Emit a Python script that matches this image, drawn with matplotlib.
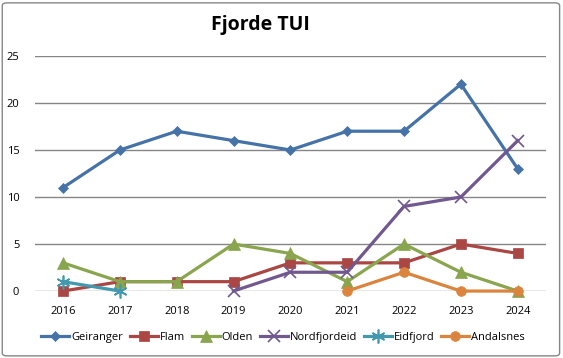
import matplotlib

matplotlib.use("Agg")

import matplotlib.pyplot as plt  # noqa: E402
import numpy as np  # noqa: E402
from matplotlib.patches import FancyBboxPatch  # noqa: E402

years = ["2016", "2017", "2018", "2019", "2020", "2021", "2022", "2023", "2024"]
nan = np.nan
geiranger = [11, 15, 17, 16, 15, 17, 17, 22, 13]
flam = [0, 1, 1, 1, 3, 3, 3, 5, 4]
olden = [3, 1, 1, 5, 4, 1, 5, 2, 0]
nordfjordeid = [nan, nan, nan, 0, 2, 2, 9, 10, 16]
eidfjord = [1, 0, nan, nan, nan, nan, nan, nan, nan]
andalsnes = [nan, nan, nan, nan, nan, 0, 2, 0, 0]

series = [
    ("Geiranger", geiranger, "#4572A7", "D", 5),
    ("Flam", flam, "#AA4643", "s", 7),
    ("Olden", olden, "#89A54E", "^", 8),
    ("Nordfjordeid", nordfjordeid, "#71588F", "x", 8),
    ("Eidfjord", eidfjord, "#4198AF", (6, 2, 0), 10),
    ("Andalsnes", andalsnes, "#DB843D", "o", 7),
]

plt.rcParams["font.family"] = ["Open Sans", "DejaVu Sans"]

fig = plt.figure(figsize=(5.63, 3.58), dpi=100)
fig.patches.append(FancyBboxPatch((0.004, 0.006), 0.99, 0.986,
                                  boxstyle="round,pad=0,rounding_size=0.008",
                                  transform=fig.transFigure, fill=False,
                                  edgecolor="#868686", linewidth=1))
ax = fig.add_axes([0.0615, 0.187, 0.9085, 0.6566])

x = np.arange(len(years))
for name, vals, color, marker, ms in series:
    ax.plot(x, vals, color=color, linewidth=2.3, marker=marker, markersize=ms,
            markeredgewidth=1.2 if marker in ("x", (6, 2, 0)) else 0.5,
            markeredgecolor=color, markerfacecolor=color, label=name,
            clip_on=False, zorder=3)

ax.set_xlim(-0.5, len(years) - 0.5)
ax.set_ylim(0, 25)
ax.set_yticks(range(0, 26, 5))
ax.set_xticks(x)
ax.set_xticklabels(years)
ax.tick_params(length=0, labelsize=8, pad=11)
ax.tick_params(axis="y", pad=11)
ax.grid(axis="y", color="#868686", linewidth=1)
ax.set_axisbelow(True)
for s in ax.spines.values():
    s.set_visible(False)

fig.text(0.463, 0.93, "Fjorde TUI", ha="center", va="center",
         fontsize=14, fontweight="bold")

fig.legend(loc="center", bbox_to_anchor=(0.503, 0.058), ncol=6, frameon=False,
           fontsize=8, handlelength=2.5, columnspacing=0.6, handletextpad=0.2)

fig.savefig("out.png", dpi=100)
